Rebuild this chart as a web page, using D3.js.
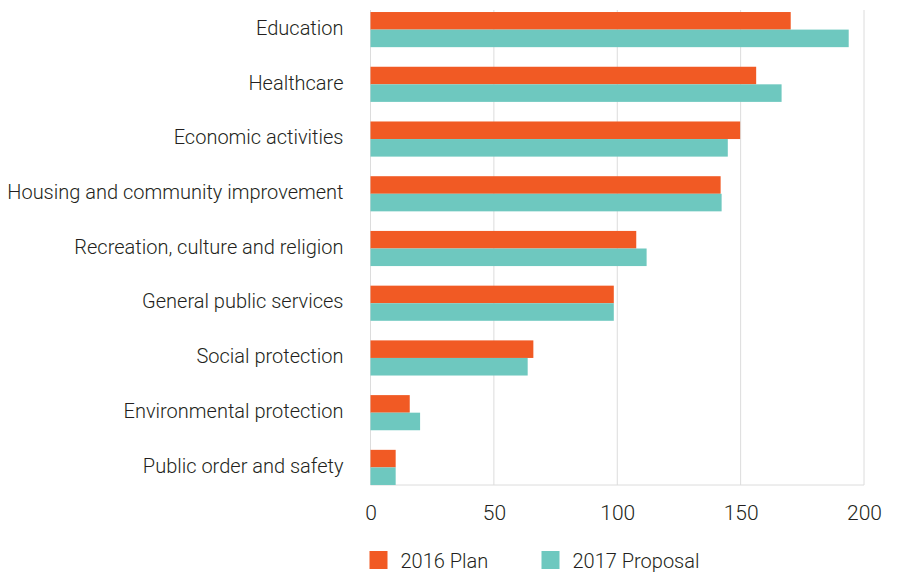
<!DOCTYPE html>
<html>
<head>
<meta charset="utf-8">
<script src="https://cdn.jsdelivr.net/npm/d3@7"></script>
<style>
  body { margin: 0; background: #fff; }
  text { font-family: "Roboto", sans-serif; font-weight: 300; fill: #231f20; }
</style>
</head>
<body>
<div id="chart-area"></div>
<script>
// Data
let categories = ["Education", "Healthcare", "Economic activities", "Housing and community improvement",
    "Recreation, culture and religion", "General public services", "Social protection",
    "Environmental protection", "Public order and safety"];
let plan2016 = [170.3, 156.3, 149.8, 141.9, 107.7, 98.6, 66.0, 15.9, 10.2];
let proposal2017 = [193.8, 166.6, 144.8, 142.3, 111.9, 98.6, 63.7, 20.1, 10.2];
let xTicks = [0, 50, 100, 150, 200];
let seriesNames = ["2016 Plan", "2017 Proposal"];
let colors = ["#f15a24", "#6ec8bf"];

let margin = {top: 10, right: 54, bottom: 88, left: 370.5};
let width = 918 - margin.left - margin.right,
    height = 573 - margin.top - margin.bottom;

let svg = d3.select("#chart-area").append("svg")
    .attr("width", 918)
    .attr("height", 573)
  .append("g")
    .attr("transform", "translate(" + margin.left + "," + margin.top + ")");

let x = d3.scaleLinear()
    .domain([0, 200])
    .range([0, width]);

let y = d3.scaleBand()
    .domain(categories)
    .range([0, height + 2])
    .paddingInner(0.358)
    .paddingOuter(0.037);

let sub = d3.scaleBand()
    .domain([0, 1])
    .range([0, y.bandwidth()]);

// grid lines
svg.selectAll(".grid")
    .data(xTicks)
  .enter().append("line")
    .attr("class", "grid")
    .attr("x1", d => x(d))
    .attr("x2", d => x(d))
    .attr("y1", 0)
    .attr("y2", height)
    .attr("stroke", "#dcdcdc")
    .attr("stroke-width", 1);

svg.append("line")
    .attr("x1", 0)
    .attr("x2", width)
    .attr("y1", height)
    .attr("y2", height)
    .attr("stroke", "#dcdcdc");

// bars
let rows = categories.map((c, i) => ({cat: c, vals: [plan2016[i], proposal2017[i]]}));

let groups = svg.selectAll(".group")
    .data(rows)
  .enter().append("g")
    .attr("class", "group")
    .attr("transform", d => `translate(0, ${y(d.cat)})`);

groups.selectAll("rect")
    .data(d => d.vals)
  .enter().append("rect")
    .attr("x", 0)
    .attr("y", (d, i) => sub(i))
    .attr("width", d => x(d))
    .attr("height", sub.bandwidth())
    .attr("fill", (d, i) => colors[i]);

// category labels
svg.selectAll(".cat-label")
    .data(categories)
  .enter().append("text")
    .attr("class", "cat-label")
    .attr("x", -27)
    .attr("y", d => y(d) + y.bandwidth() / 2 - 2)
    .attr("dy", "0.36em")
    .attr("text-anchor", "end")
    .style("font-size", "20px")
    .text(d => d);

// x axis labels
let xAxisGroup = svg.append("g")
    .attr("transform", `translate(0, ${height})`)
    .call(d3.axisBottom(x).tickValues(xTicks).tickSize(0).tickPadding(20));

xAxisGroup.select(".domain").remove();
xAxisGroup.selectAll("text")
    .style("font-size", "21px")
    .style("font-family", "Roboto, sans-serif")
    .attr("fill", "#231f20");

// legend
let legend = svg.append("g")
    .attr("transform", `translate(0, ${height + 66})`);

let items = legend.selectAll(".legend-item")
    .data(seriesNames)
  .enter().append("g")
    .attr("class", "legend-item")
    .attr("transform", (d, i) => `translate(${i * 172 - 1}, 0)`);

items.append("rect")
    .attr("width", 18)
    .attr("height", 18)
    .attr("fill", (d, i) => colors[i]);

items.append("text")
    .attr("x", 31)
    .attr("y", 17)
    .style("font-size", "20px")
    .text(d => d);
</script>
</body>
</html>
